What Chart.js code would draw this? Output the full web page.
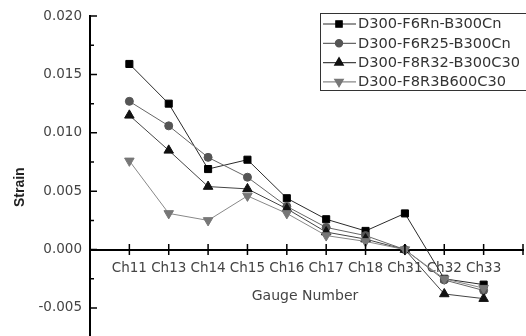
<!DOCTYPE html>
<html>
<head>
<meta charset="utf-8">
<script src="https://cdn.jsdelivr.net/npm/chart.js@4/dist/chart.umd.min.js"></script>
<style>
  html, body { margin: 0; padding: 0; background: #fff; }
  #wrap { width: 526px; height: 336px; position: relative; }
</style>
</head>
<body>
<div id="wrap"><canvas id="c" width="526" height="336"></canvas></div>
<script>
const categories = ['Ch11','Ch13','Ch14','Ch15','Ch16','Ch17','Ch18','Ch31','Ch32','Ch33'];
const seriesNames = ['D300-F6Rn-B300Cn','D300-F6R25-B300Cn','D300-F8R32-B300C30','D300-F8R3B600C30'];
const s1 = [0.0159, 0.0125, 0.0069, 0.0077, 0.0044, 0.0026, 0.0016, 0.0031, -0.0025, -0.0030];
const s2 = [0.0127, 0.0106, 0.0079, 0.0062, 0.0037, 0.0019, 0.0012, 0.0000, -0.0026, -0.0035];
const s3 = [0.0115, 0.0085, 0.0054, 0.0052, 0.0035, 0.0015, 0.0009, 0.0000, -0.0038, -0.0042];
const s4 = [0.0076, 0.0031, 0.0025, 0.0046, 0.0031, 0.0012, 0.0007, 0.0000, -0.0025, -0.0033];
const yMajorTicks = [-0.005, 0.000, 0.005, 0.010, 0.015, 0.020];
const yMinorTicks = [-0.0025, 0.0025, 0.0075, 0.0125, 0.0175];
const xTitle = 'Gauge Number';
const yTitle = 'Strain';

const styles = [
  { line: '#2a2a2a', mark: '#000000', style: 'rect', radius: 5, rot: 0 },
  { line: '#666666', mark: '#555555', style: 'circle', radius: 4, rot: 0 },
  { line: '#444444', mark: '#111111', style: 'triangle', radius: 5.5, rot: 0 },
  { line: '#888888', mark: '#777777', style: 'triangle', radius: 5.5, rot: 180 }
];
const allSeries = [s1, s2, s3, s4];

const datasets = allSeries.map((s, k) => ({
  label: seriesNames[k],
  data: s.map((v, i) => ({ x: i + 1, y: v })),
  borderColor: styles[k].line,
  borderWidth: 1,
  pointStyle: styles[k].style,
  pointRadius: styles[k].radius,
  pointRotation: styles[k].rot,
  pointBackgroundColor: styles[k].mark,
  pointBorderColor: styles[k].mark,
  pointBorderWidth: 1,
  tension: 0,
  fill: false
})).reverse();

const tickFont = { family: 'DejaVu Sans', size: 13.5 };

// let the plot area run to the bottom edge and near the right edge, as in the original
const stretchArea = {
  id: 'stretchArea',
  afterLayout(chart) {
    const y = chart.scales.y, x = chart.scales.x;
    const b = chart.height, r = chart.width - 3;
    chart.chartArea.bottom = b;
    chart.chartArea.height = b - chart.chartArea.top;
    chart.chartArea.right = r;
    chart.chartArea.width = r - chart.chartArea.left;
    y.bottom = b;
    y.height = b - y.top;
    y.configure();
    x.right = r;
    x.width = r - x.left;
    x.configure();
  }
};

const axisDecor = {
  id: 'axisDecor',
  afterDraw(chart) {
    const ctx = chart.ctx;
    const x = chart.scales.x, y = chart.scales.y;
    const left = chart.chartArea.left;
    const y0 = y.getPixelForValue(0);
    ctx.save();
    ctx.strokeStyle = '#000';
    ctx.lineWidth = 1.5;
    ctx.beginPath();
    yMajorTicks.forEach(v => { const p = y.getPixelForValue(v); ctx.moveTo(left, p); ctx.lineTo(left + 7, p); });
    yMinorTicks.forEach(v => { const p = y.getPixelForValue(v); ctx.moveTo(left, p); ctx.lineTo(left + 4, p); });
    for (let i = 1; i <= categories.length + 1; i++) {
      const p = x.getPixelForValue(i);
      ctx.moveTo(p, y0 - 5.5); ctx.lineTo(p, y0 + 5.5);
    }
    ctx.stroke();
    ctx.font = '14px "DejaVu Sans"';
    ctx.fillStyle = '#444';
    ctx.textAlign = 'center';
    ctx.textBaseline = 'middle';
    ctx.fillText(xTitle, (chart.chartArea.left + chart.chartArea.right) / 2 - 1.5, y0 + 46.7);
    ctx.translate(20, y.getPixelForValue(0.005) - 4);
    ctx.rotate(-Math.PI / 2);
    ctx.font = 'bold 14px "Liberation Sans"';
    ctx.fillStyle = '#222';
    ctx.fillText(yTitle, 0, 0);
    ctx.restore();
  }
};

const legendBox = {
  id: 'legendBox',
  afterDraw(chart) {
    const ctx = chart.ctx;
    const bx = 320.5, by = 13.5, bw = 210, bh = 77;
    ctx.save();
    ctx.strokeStyle = '#333';
    ctx.lineWidth = 1;
    ctx.strokeRect(bx, by, bw, bh);
    const rows = [24, 43.3, 62.6, 81.8];
    ctx.font = '14.6px "DejaVu Sans"';
    ctx.textBaseline = 'middle';
    seriesNames.forEach((name, k) => {
      const st = styles[k];
      const ry = rows[k];
      ctx.strokeStyle = st.line;
      ctx.lineWidth = 1.2;
      ctx.beginPath(); ctx.moveTo(323, ry); ctx.lineTo(356, ry); ctx.stroke();
      ctx.fillStyle = st.mark; ctx.strokeStyle = st.mark;
      Chart.helpers.drawPoint(ctx, { pointStyle: st.style, radius: st.radius * 0.9, rotation: st.rot, borderWidth: 1 }, 339, ry);
      ctx.fillStyle = '#333';
      ctx.fillText(name, 358, ry + 0.5);
    });
    ctx.restore();
  }
};

new Chart(document.getElementById('c'), {
  type: 'line',
  data: { datasets },
  options: {
    responsive: false,
    animation: false,
    devicePixelRatio: 1,
    layout: { padding: { top: 16, right: 3, bottom: 0, left: 0 } },
    plugins: { legend: { display: false }, tooltip: { enabled: false } },
    scales: {
      x: {
        type: 'linear',
        position: { y: 0 },
        min: 0, max: 11,
        afterBuildTicks: s => { s.ticks = categories.map((c, i) => ({ value: i + 1 })); },
        afterFit: s => { s.height = 0; },
        grid: { display: false, drawTicks: false },
        border: { display: true, color: '#000', width: 2 },
        ticks: {
          autoSkip: false, maxRotation: 0, minRotation: 0, padding: 11,
          color: '#444', font: tickFont,
          callback: v => categories[v - 1] || ''
        }
      },
      y: {
        type: 'linear',
        min: -0.0074, max: 0.020,
        afterBuildTicks: s => { s.ticks = yMajorTicks.map(v => ({ value: v })); },
        afterFit: s => { s.width = 90; },
        grid: { display: false, drawTicks: false },
        border: { display: true, color: '#000', width: 2 },
        ticks: { padding: 8, color: '#444', font: tickFont, callback: v => v.toFixed(3) }
      }
    }
  },
  plugins: [stretchArea, axisDecor, legendBox]
});
</script>
</body>
</html>
